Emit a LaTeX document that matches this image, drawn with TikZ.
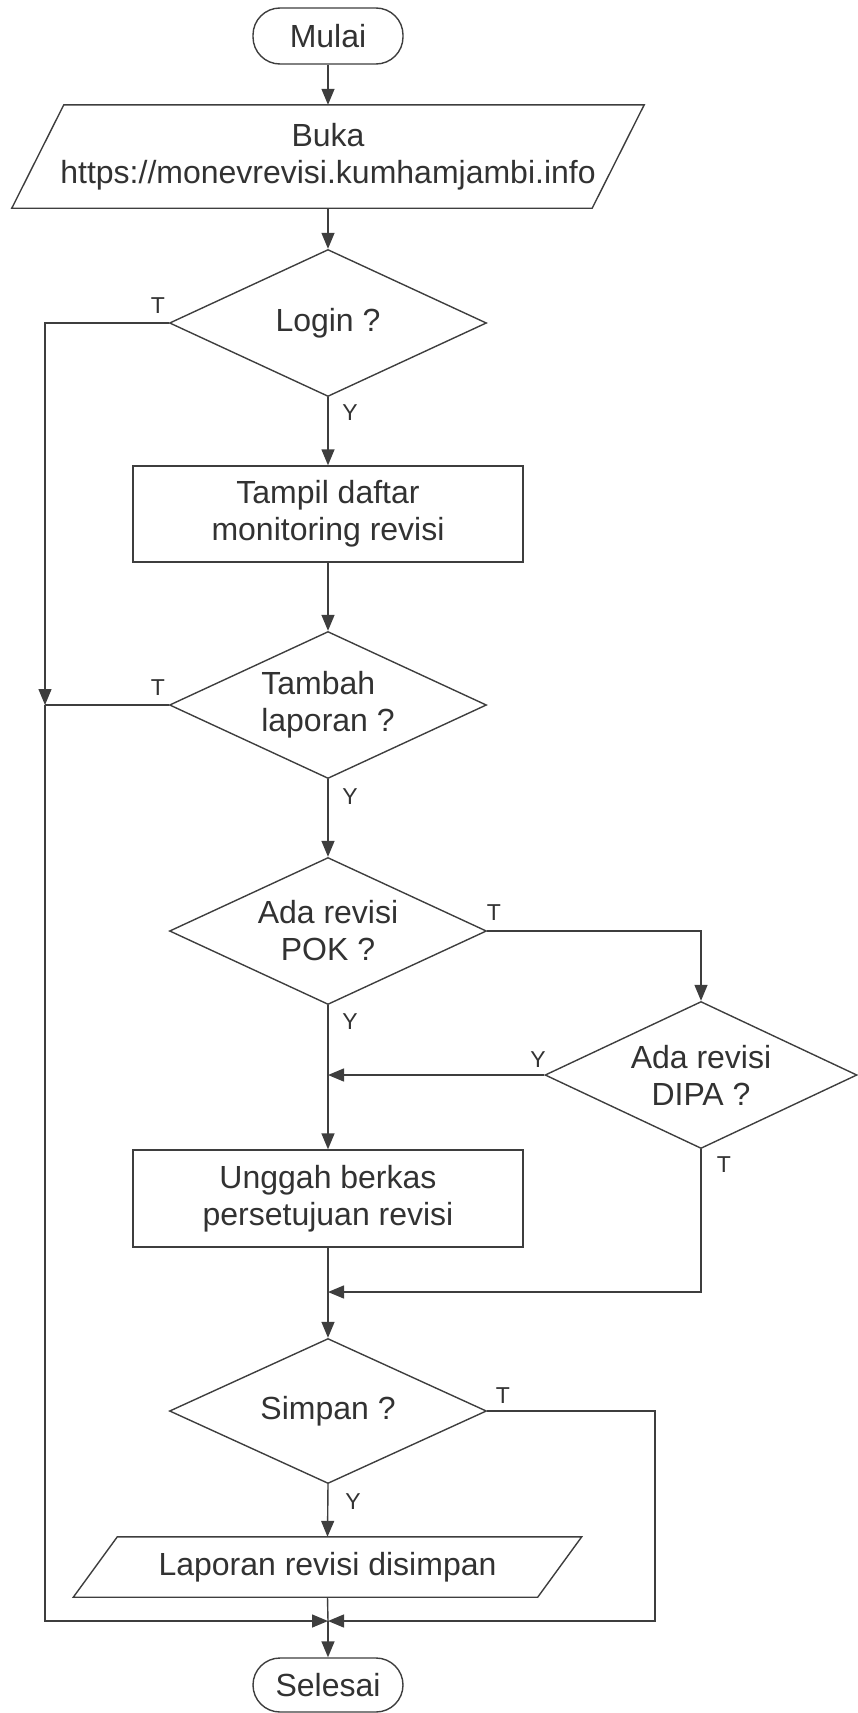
\documentclass[tikz,border=0pt]{standalone}
\usepackage{fontspec}
\setmainfont{Liberation Sans}
\usetikzlibrary{shapes.geometric,arrows.meta}
\definecolor{ink}{RGB}{62,62,62}
\definecolor{txt}{RGB}{50,50,50}
\begin{document}
\begin{tikzpicture}[x=1pt,y=-1pt,
  every node/.style={text=txt,font=\fontsize{32}{37}\selectfont,inner sep=0pt},
  line/.style={draw=ink,line width=1.4pt},
  arr/.style={line,-{Triangle[length=16pt,width=13pt]}},
  term/.style={draw=ink,line width=1.4pt,rectangle,rounded corners=27pt,minimum width=150pt,minimum height=56pt},
  proc/.style={draw=ink,line width=1.4pt,rectangle,minimum width=390pt,minimum height=96pt,align=center},
  decision/.style={draw=ink,line width=1.4pt,diamond,aspect=2.15,minimum width=317pt,minimum height=147pt,align=center},
  iobox/.style={rectangle,align=center},
  lbl/.style={font=\fontsize{23}{27}\selectfont}
]
\useasboundingbox (0,0) rectangle (857,1713);

\node[term] (start) at (328,36) {Mulai};
\node[iobox,minimum width=580pt,minimum height=103pt] (buka) at (328,156.5) {Buka\\https://monevrevisi.kumhamjambi.info};
\draw[line] ([xshift=26pt]buka.north west) -- ([xshift=26pt]buka.north east) -- ([xshift=-26pt]buka.south east) -- ([xshift=-26pt]buka.south west) -- cycle;
\node[decision] (login) at (328,323) {Login ?};
\node[proc] (tampil) at (328,514) {Tampil daftar\\monitoring revisi};
\node[decision,align=left] (tambah) at (328,705) {Tambah\\laporan ?};
\node[decision] (pok) at (328,931) {Ada revisi\\POK ?};
\node[decision,minimum width=312pt] (dipa) at (701,1075) {Ada revisi\\DIPA ?};
\node[proc,minimum height=97pt] (unggah) at (328,1198.5) {Unggah berkas\\persetujuan revisi};
\node[decision,minimum height=145pt] (simpan) at (328,1411) {Simpan ?};
\node[iobox,minimum width=464pt,minimum height=60pt] (laporan) at (327.5,1567) {Laporan revisi disimpan};
\draw[line] ([xshift=22pt]laporan.north west) -- ([xshift=22pt]laporan.north east) -- ([xshift=-22pt]laporan.south east) -- ([xshift=-22pt]laporan.south west) -- cycle;
\node[term,minimum height=54pt] (selesai) at (328,1685) {Selesai};

\coordinate (lb) at (45,705);
\coordinate (m2) at (328,1292);
\coordinate (j) at (328,1621);
\coordinate (sr) at (655,1411);

\draw[arr] (start.south) -- (buka.north);
\draw[arr] (buka.south) -- (login.north);
\draw[arr] (login.south) -- (tampil.north);
\draw[arr] (tampil.south) -- (tambah.north);
\draw[arr] (tambah.south) -- (pok.north);
\draw[arr] (pok.south) -- (unggah.north);
\draw[arr] (pok.east) -| (dipa.north);
\draw[arr] (dipa.west) -- (pok.south |- dipa.west);
\draw[arr] (unggah.south) -- (simpan.north);
\draw[arr] (dipa.south) |- (m2);
\draw[arr] (simpan.south) -- (laporan.north);
\draw[line] (laporan.south) -- (j);
\draw[arr] (j) -- (selesai.north);
\draw[arr] (login.west) -| (lb);
\draw[line] (tambah.west) -- (lb);
\draw[arr] (lb) |- (j);
\draw[arr] (simpan.east) -- (sr) |- (j);

\node[lbl] (t1) at (158,306) {T};
\node[lbl] (y1) at (350,413) {Y};
\node[lbl] (t2) at (158,688) {T};
\node[lbl] (y2) at (350,797) {Y};
\node[lbl] (t3) at (494,913) {T};
\node[lbl] (y3) at (350,1022) {Y};
\node[lbl] (y4) at (538,1060) {Y};
\node[lbl] (t4) at (724,1165) {T};
\node[lbl] (t5) at (503,1396) {T};
\node[lbl] (y5) at (353,1502) {Y};
\end{tikzpicture}
\end{document}
